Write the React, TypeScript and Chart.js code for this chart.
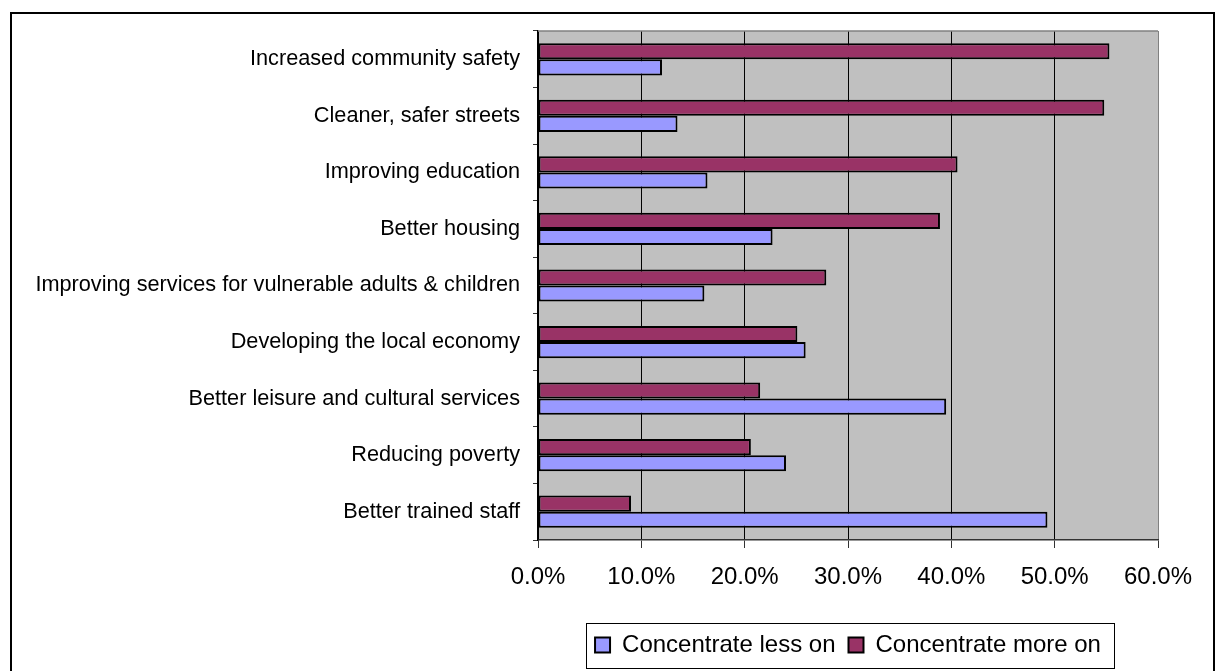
import React, { useEffect, useRef } from 'react';
import { Chart, registerables } from 'chart.js';

Chart.register(...registerables);

const categories = [
  'Increased community safety',
  'Cleaner, safer streets',
  'Improving education',
  'Better housing',
  'Improving services for vulnerable adults & children',
  'Developing the local economy',
  'Better leisure and cultural services',
  'Reducing poverty',
  'Better trained staff',
];
const concentrateMore = [55.3, 54.8, 40.6, 38.9, 27.9, 25.1, 21.5, 20.6, 9.0];
const concentrateLess = [12.0, 13.5, 16.4, 22.7, 16.1, 25.9, 39.5, 24.0, 49.3];
const xMin = 0;
const xMax = 60;
const xStep = 10;

const FONT = "Arial, 'Liberation Sans', sans-serif";

const plotBackground = {
  id: 'plotBackground',
  beforeDraw(chart: any) {
    const { ctx, chartArea } = chart;
    ctx.save();
    ctx.fillStyle = '#C0C0C0';
    ctx.fillRect(chartArea.left, chartArea.top, chartArea.right - chartArea.left, chartArea.bottom - chartArea.top);
    ctx.restore();
  },
  beforeDatasetsDraw(chart: any) {
    const { ctx, chartArea } = chart;
    ctx.save();
    ctx.strokeStyle = '#808080';
    ctx.lineWidth = 1.5;
    ctx.beginPath();
    ctx.moveTo(chartArea.left, chartArea.top);
    ctx.lineTo(chartArea.right, chartArea.top);
    ctx.stroke();
    ctx.restore();
  },
};

const legendFrame = {
  id: 'legendFrame',
  afterDraw(chart: any) {
    const legend = chart.legend;
    if (!legend || !legend.legendHitBoxes || !legend.legendHitBoxes.length) return;
    const boxes = legend.legendHitBoxes;
    const first = boxes[0];
    const last = boxes[boxes.length - 1];
    const left = first.left - 9;
    const right = last.left + last.width + 13;
    const top = first.top - 10;
    const bottom = first.top + first.height + 11;
    const { ctx } = chart;
    ctx.save();
    ctx.strokeStyle = '#000000';
    ctx.lineWidth = 1;
    ctx.strokeRect(Math.round(left) + 0.5, Math.round(top) + 0.5, Math.round(right - left), Math.round(bottom - top));
    ctx.restore();
  },
};

export default function App() {
  const canvasRef = useRef<HTMLCanvasElement | null>(null);

  useEffect(() => {
    if (!canvasRef.current) return;
    const chart = new Chart(canvasRef.current, {
      type: 'bar',
      data: {
        labels: categories,
        datasets: [
          {
            label: 'Concentrate more on',
            data: concentrateMore,
            backgroundColor: '#993366',
            borderColor: '#000000',
            borderWidth: 2,
            borderSkipped: false,
            categoryPercentage: 0.57,
            barPercentage: 1.0,
          },
          {
            label: 'Concentrate less on',
            data: concentrateLess,
            backgroundColor: '#9999FF',
            borderColor: '#000000',
            borderWidth: 2,
            borderSkipped: false,
            categoryPercentage: 0.57,
            barPercentage: 1.0,
          },
        ],
      },
      options: {
        indexAxis: 'y',
        responsive: false,
        animation: false,
        devicePixelRatio: 1,
        layout: { padding: { left: 0, right: 59, top: 31, bottom: 4 } },
        plugins: {
          legend: {
            position: 'bottom',
            fullSize: false,
            reverse: true,
            labels: {
              boxWidth: 15,
              boxHeight: 15,
              padding: 13,
              color: '#000000',
              font: { family: FONT, size: 24 },
            },
          },
          tooltip: { enabled: false },
          title: { display: false },
        },
        scales: {
          x: {
            type: 'linear',
            min: xMin,
            max: xMax,
            ticks: {
              stepSize: xStep,
              color: '#000000',
              padding: 15,
              maxRotation: 0,
              font: { family: FONT, size: 24 },
              callback: (v: any) => Number(v).toFixed(1) + '%',
            },
            grid: {
              color: (c: any) => (c.tick && c.tick.value === xMax ? '#808080' : '#000000'),
              lineWidth: 1,
              drawTicks: true,
              tickLength: 8,
              tickColor: '#333333',
            },
            border: { color: '#333333', width: 1.5 },
            afterFit: (scale: any) => {
              scale.height = 80;
            },
          },
          y: {
            type: 'category',
            ticks: {
              color: '#000000',
              padding: 13,
              autoSkip: false,
              font: { family: FONT, size: 21.7 },
            },
            grid: {
              drawOnChartArea: false,
              drawTicks: true,
              tickLength: 5,
              tickColor: '#333333',
              offset: true,
            },
            border: { color: '#000000', width: 1.5 },
            afterFit: (scale: any) => {
              scale.width = 538;
            },
          },
        },
      },
      plugins: [plotBackground, legendFrame],
    } as any);
    return () => chart.destroy();
  }, []);

  return (
    <div style={{ position: 'fixed', left: 0, top: 0, width: 1217, height: 671, overflow: 'hidden', background: '#ffffff' }}>
      <div
        style={{
          position: 'absolute',
          left: 10,
          top: 12,
          width: 1205,
          height: 700,
          border: '2px solid #000000',
          boxSizing: 'border-box',
        }}
      />
      <canvas
        ref={canvasRef}
        width={1217}
        height={671}
        style={{ position: 'absolute', left: 0, top: 0, width: 1217, height: 671 }}
      />
    </div>
  );
}
